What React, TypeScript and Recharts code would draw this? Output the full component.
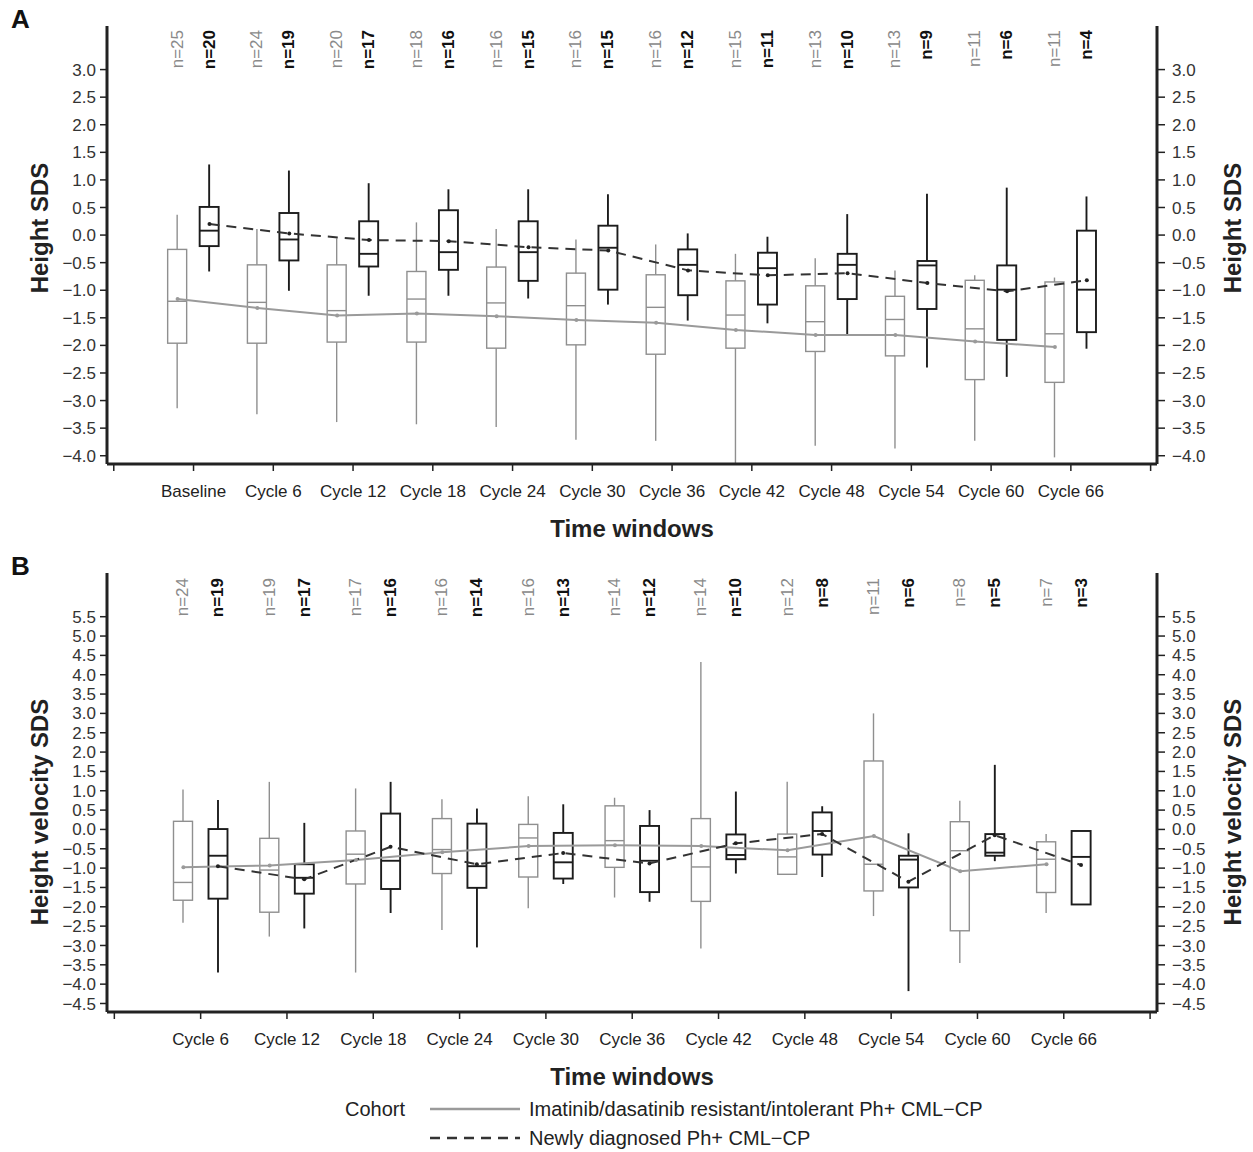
import { ComposedChart, Bar, Line, XAxis, YAxis, LabelList, Legend } from "recharts";

// Panel A: height SDS, 12 time windows
const LABELS_A = ["Baseline", "Cycle 6", "Cycle 12", "Cycle 18", "Cycle 24", "Cycle 30", "Cycle 36", "Cycle 42", "Cycle 48", "Cycle 54", "Cycle 60", "Cycle 66"];
// [min, q1, median, q3, max]
const A_GRAY_BOX = [
  [-3.14, -1.96, -1.2, -0.26, 0.37],
  [-3.25, -1.96, -1.22, -0.54, 0.11],
  [-3.39, -1.94, -1.37, -0.54, -0.06],
  [-3.43, -1.94, -1.16, -0.66, 0.23],
  [-3.48, -2.05, -1.23, -0.58, 0.11],
  [-3.71, -1.99, -1.28, -0.69, -0.08],
  [-3.73, -2.16, -1.31, -0.72, -0.17],
  [-4.15, -2.05, -1.45, -0.83, -0.34],
  [-3.82, -2.11, -1.57, -0.92, -0.42],
  [-3.87, -2.19, -1.53, -1.11, -0.64],
  [-3.73, -2.62, -1.7, -0.82, -0.73],
  [-4.03, -2.67, -1.79, -0.85, -0.77],
];
const A_BLACK_BOX = [
  [-0.66, -0.2, 0.08, 0.51, 1.28],
  [-1.01, -0.46, -0.08, 0.4, 1.17],
  [-1.1, -0.57, -0.34, 0.25, 0.94],
  [-1.1, -0.63, -0.31, 0.45, 0.83],
  [-1.15, -0.83, -0.31, 0.25, 0.83],
  [-1.26, -0.99, -0.23, 0.17, 0.74],
  [-1.55, -1.09, -0.54, -0.26, 0.03],
  [-1.6, -1.26, -0.6, -0.32, -0.03],
  [-1.81, -1.16, -0.54, -0.34, 0.38],
  [-2.4, -1.34, -0.55, -0.47, 0.75],
  [-2.57, -1.9, -0.99, -0.55, 0.86],
  [-2.06, -1.76, -0.99, 0.08, 0.7],
];
const A_GRAY_MEAN = [-1.16, -1.32, -1.46, -1.42, -1.47, -1.54, -1.59, -1.72, -1.81, -1.81, -1.93, -2.03];
const A_BLACK_MEAN = [0.2, 0.03, -0.09, -0.11, -0.22, -0.28, -0.64, -0.73, -0.69, -0.87, -1.02, -0.82];
const A_GRAY_N = [25, 24, 20, 18, 16, 16, 16, 15, 13, 13, 11, 11];
const A_BLACK_N = [20, 19, 17, 16, 15, 15, 12, 11, 10, 9, 6, 4];
const A_Y_TICKS = [-4, -3.5, -3, -2.5, -2, -1.5, -1, -0.5, 0, 0.5, 1, 1.5, 2, 2.5, 3];

// Panel B: height velocity SDS, 11 time windows
const LABELS_B = ["Cycle 6", "Cycle 12", "Cycle 18", "Cycle 24", "Cycle 30", "Cycle 36", "Cycle 42", "Cycle 48", "Cycle 54", "Cycle 60", "Cycle 66"];
const B_GRAY_BOX = [
  [-2.41, -1.83, -1.37, 0.21, 1.03],
  [-2.77, -2.14, -1.05, -0.23, 1.23],
  [-3.7, -1.41, -0.64, -0.04, 1.06],
  [-2.6, -1.14, -0.52, 0.28, 0.78],
  [-2.04, -1.23, -0.22, 0.13, 0.86],
  [-1.76, -0.98, -0.29, 0.61, 0.82],
  [-3.08, -1.86, -0.97, 0.28, 4.33],
  [-1.16, -1.16, -0.71, -0.12, 1.23],
  [-2.24, -1.59, -0.9, 1.77, 3.0],
  [-3.45, -2.62, -0.55, 0.2, 0.74],
  [-2.16, -1.63, -0.77, -0.32, -0.12],
];
const B_BLACK_BOX = [
  [-3.7, -1.79, -0.68, 0.01, 0.76],
  [-2.56, -1.66, -1.25, -0.9, 0.17],
  [-2.16, -1.54, -0.81, 0.41, 1.23],
  [-3.05, -1.51, -0.95, 0.15, 0.54],
  [-1.41, -1.27, -0.85, -0.09, 0.65],
  [-1.87, -1.62, -0.81, 0.09, 0.5],
  [-1.14, -0.77, -0.66, -0.13, 0.98],
  [-1.23, -0.65, -0.04, 0.44, 0.6],
  [-4.18, -1.5, -0.78, -0.68, -0.1],
  [-0.82, -0.68, -0.6, -0.12, 1.67],
  [-1.94, -1.94, -0.71, -0.04, -0.04],
];
const B_GRAY_MEAN = [-0.98, -0.93, -0.79, -0.59, -0.43, -0.41, -0.43, -0.54, -0.17, -1.08, -0.9];
const B_BLACK_MEAN = [-0.95, -1.29, -0.45, -0.9, -0.61, -0.88, -0.36, -0.12, -1.35, -0.15, -0.92];
const B_GRAY_N = [24, 19, 17, 16, 16, 14, 14, 12, 11, 8, 7];
const B_BLACK_N = [19, 17, 16, 14, 13, 12, 10, 8, 6, 5, 3];
const B_Y_TICKS = [-4.5, -4, -3.5, -3, -2.5, -2, -1.5, -1, -0.5, 0, 0.5, 1, 1.5, 2, 2.5, 3, 3.5, 4, 4.5, 5, 5.5];

const COHORT_GRAY = "Imatinib/dasatinib resistant/intolerant Ph+ CML\u2212CP";
const COHORT_BLACK = "Newly diagnosed Ph+ CML\u2212CP";

const GRAY = "#8f8f8f";
const BLACK = "#1c1c1c";
const AXIS = "#222";
const DASH = "10 7";
const SHIFT = 0.2; // boxes of the two cohorts sit either side of the window

const fmtY = (v: number) => v.toFixed(1).replace("-", "\u2212");

// range value [q1, q3] for a box, tolerant of rows without that cohort
const boxRange = (key: "g" | "b") => (d: any) => {
  const s = d && d[key];
  return s ? [s[1], s[3]] : null;
};

// box + whiskers drawn from the range bar [q1, q3]
const boxShape = (key: "g" | "b", color: string, sw: number) => (props: any) => {
  const { x, y, width, height, payload } = props;
  const s = payload && payload[key];
  if (!s || x == null || y == null) return <g />;
  const [lo, q1, med, q3, hi] = s;
  const top = Math.min(y, y + height);
  const h = Math.abs(height);
  const k = h / (q3 - q1);
  const py = (v: number) => top + (q3 - v) * k;
  const cx = x + width / 2;
  return (
    <g>
      <line x1={cx} x2={cx} y1={py(hi)} y2={top} stroke={color} strokeWidth={sw} />
      <line x1={cx} x2={cx} y1={top + h} y2={py(lo)} stroke={color} strokeWidth={sw} />
      <rect x={x} y={top} width={width} height={h} fill="none" stroke={color} strokeWidth={sw} />
      <line x1={x} x2={x + width} y1={py(med)} y2={py(med)} stroke={color} strokeWidth={sw} />
    </g>
  );
};

const nLabel = (color: string, bold: boolean) => (props: any) => {
  const vb = props.viewBox || props;
  if (!vb || vb.x == null) return null;
  const cx = vb.x + vb.width / 2;
  const ty = 30;
  return (
    <text
      x={cx}
      y={ty}
      transform={`rotate(-90 ${cx} ${ty})`}
      textAnchor="end"
      dominantBaseline="central"
      fontSize={17}
      fontWeight={bold ? "bold" : "normal"}
      fill={color}
    >
      {`n=${props.value}`}
    </text>
  );
};

const yTitle = (text: string, dx: number, cy: number) => (props: any) => {
  const x = (props.viewBox?.x ?? 0) + dx;
  return (
    <text
      x={x}
      y={cy}
      transform={`rotate(-90 ${x} ${cy})`}
      textAnchor="middle"
      dominantBaseline="central"
      fontSize={24}
      fontWeight="bold"
      fill={AXIS}
    >
      {text}
    </text>
  );
};

const xTitle = (props: any) => {
  const vb = props.viewBox || { x: 0, y: 0, width: 0 };
  return (
    <text x={vb.x + vb.width / 2} y={vb.y + 64} textAnchor="middle" dominantBaseline="central" fontSize={24} fontWeight="bold" fill={AXIS}>
      Time windows
    </text>
  );
};

function CohortLegend(props: any) {
  const items = (props.payload || []).filter((p: any) => p.type !== "none");
  return (
    <div style={{ position: "relative", width: 1253, height: 60, fontSize: 20, color: "#222" }}>
      <span style={{ position: "absolute", left: 345, top: 3, lineHeight: "28px" }}>Cohort</span>
      {items.map((it: any, i: number) => (
        <div key={it.value} style={{ position: "absolute", left: 428, top: 3 + i * 29, height: 28, display: "flex", alignItems: "center", whiteSpace: "nowrap" }}>
          <svg width={94} height={28}>
            <line
              x1={2}
              x2={92}
              y1={14}
              y2={14}
              stroke={it.color}
              strokeWidth={2.5}
              strokeDasharray={it.payload?.strokeDasharray ?? (i === 1 ? DASH : undefined)}
            />
          </svg>
          <span style={{ marginLeft: 7, lineHeight: "28px" }}>{it.value}</span>
        </div>
      ))}
    </div>
  );
}

interface PanelProps {
  labels: string[];
  grayBox: number[][];
  blackBox: number[][];
  grayMean: number[];
  blackMean: number[];
  grayN: number[];
  blackN: number[];
  yTicks: number[];
  yDomain: [number, number];
  yLabel: string;
  titleY: number;
  height: number;
  margin: { top: number; right: number; bottom: number; left: number };
  barGap: number;
  legend?: boolean;
}

function Panel(p: PanelProps) {
  const rows = p.labels.map((label, i) => ({
    x: i + 1,
    label,
    g: p.grayBox[i],
    b: p.blackBox[i],
    gn: p.grayN[i],
    bn: p.blackN[i],
  }));
  // mean lines run through the box centres, so they live on their own (hidden) x axis
  const grayLine = p.grayMean.map((m, i) => ({ x: i + 1 - SHIFT, mean: m }));
  const blackLine = p.blackMean.map((m, i) => ({ x: i + 1 + SHIFT, mean: m }));
  const xTicks = Array.from({ length: p.labels.length + 2 }, (_, i) => i);
  const xDomain: [number, number] = [-0.085, p.labels.length + 1.08];

  return (
    <ComposedChart width={1253} height={p.height} data={rows} margin={p.margin} barGap={p.barGap}>
      <XAxis
        dataKey="x"
        type="number"
        domain={xDomain}
        allowDataOverflow
        ticks={xTicks}
        tickFormatter={(v: number) => p.labels[v - 1] ?? ""}
        interval={0}
        height={80}
        tickSize={7}
        tickMargin={14}
        axisLine={{ stroke: AXIS, strokeWidth: 3 }}
        tickLine={{ stroke: AXIS, strokeWidth: 1.5 }}
        tick={{ fontSize: 17, fill: AXIS }}
        label={{ content: xTitle }}
      />
      <XAxis xAxisId="mean" dataKey="x" type="number" domain={xDomain} allowDataOverflow hide height={80} />
      <YAxis
        yAxisId="left"
        type="number"
        domain={p.yDomain}
        allowDataOverflow
        ticks={p.yTicks}
        interval={0}
        tickFormatter={fmtY}
        width={100}
        tickSize={7}
        tickMargin={4}
        axisLine={{ stroke: AXIS, strokeWidth: 3 }}
        tickLine={{ stroke: AXIS, strokeWidth: 1.5 }}
        tick={{ fontSize: 17, fill: "#333" }}
        label={{ content: yTitle(p.yLabel, 32, p.titleY) }}
      />
      <YAxis
        yAxisId="right"
        orientation="right"
        type="number"
        domain={p.yDomain}
        allowDataOverflow
        ticks={p.yTicks}
        interval={0}
        tickFormatter={fmtY}
        width={90}
        tickSize={8}
        tickMargin={7}
        axisLine={{ stroke: AXIS, strokeWidth: 3 }}
        tickLine={{ stroke: AXIS, strokeWidth: 1.5 }}
        tick={{ fontSize: 17, fill: "#333" }}
        label={{ content: yTitle(p.yLabel, 75, p.titleY) }}
      />
      <Bar
        yAxisId="left"
        dataKey={boxRange("g")}
        barSize={19}
        legendType="none"
        shape={boxShape("g", GRAY, 1.4)}
        isAnimationActive={false}
      >
        <LabelList dataKey="gn" content={nLabel("#8a8a8a", false)} />
      </Bar>
      <Bar
        yAxisId="left"
        dataKey={boxRange("b")}
        barSize={19}
        legendType="none"
        shape={boxShape("b", BLACK, 1.9)}
        isAnimationActive={false}
      >
        <LabelList dataKey="bn" content={nLabel("#111", true)} />
      </Bar>
      <Line
        xAxisId="mean"
        yAxisId="left"
        data={grayLine}
        dataKey="mean"
        name={COHORT_GRAY}
        stroke="#9a9a9a"
        strokeWidth={2}
        dot={{ r: 2, fill: "#9a9a9a", stroke: "none" }}
        activeDot={false}
        isAnimationActive={false}
      />
      <Line
        xAxisId="mean"
        yAxisId="left"
        data={blackLine}
        dataKey="mean"
        name={COHORT_BLACK}
        stroke="#333"
        strokeWidth={2}
        strokeDasharray={DASH}
        dot={{ r: 2, fill: "#222", stroke: "none" }}
        activeDot={false}
        isAnimationActive={false}
      />
      {p.legend && (
        <Legend
          verticalAlign="bottom"
          content={CohortLegend}
          wrapperStyle={{ left: 0, bottom: 0, width: 1253, height: 60 }}
        />
      )}
    </ComposedChart>
  );
}

export default function App() {
  return (
    <div
      style={{
        position: "absolute",
        left: 0,
        top: 0,
        width: 1253,
        height: 1152,
        background: "#fff",
        fontFamily: "'Liberation Sans', Arial, sans-serif",
      }}
    >
      <div style={{ position: "absolute", left: 0, top: 0 }}>
        <Panel
          labels={LABELS_A}
          grayBox={A_GRAY_BOX}
          blackBox={A_BLACK_BOX}
          grayMean={A_GRAY_MEAN}
          blackMean={A_BLACK_MEAN}
          grayN={A_GRAY_N}
          blackN={A_BLACK_N}
          yTicks={A_Y_TICKS}
          yDomain={[-4.15, 3.79]}
          yLabel="Height SDS"
          titleY={228}
          height={548}
          margin={{ top: 26, right: 6, bottom: 4, left: 7 }}
          barGap={13}
        />
      </div>
      <div style={{ position: "absolute", left: 0, top: 548 }}>
        <Panel
          labels={LABELS_B}
          grayBox={B_GRAY_BOX}
          blackBox={B_BLACK_BOX}
          grayMean={B_GRAY_MEAN}
          blackMean={B_BLACK_MEAN}
          grayN={B_GRAY_N}
          blackN={B_BLACK_N}
          yTicks={B_Y_TICKS}
          yDomain={[-4.72, 6.63]}
          yLabel="Height velocity SDS"
          titleY={264}
          height={604}
          margin={{ top: 25, right: 6, bottom: 0, left: 7 }}
          barGap={16}
          legend
        />
      </div>
      <div style={{ position: "absolute", left: 11, top: 4, fontSize: 26, fontWeight: "bold", color: "#111" }}>A</div>
      <div style={{ position: "absolute", left: 11, top: 551, fontSize: 26, fontWeight: "bold", color: "#111" }}>B</div>
    </div>
  );
}
